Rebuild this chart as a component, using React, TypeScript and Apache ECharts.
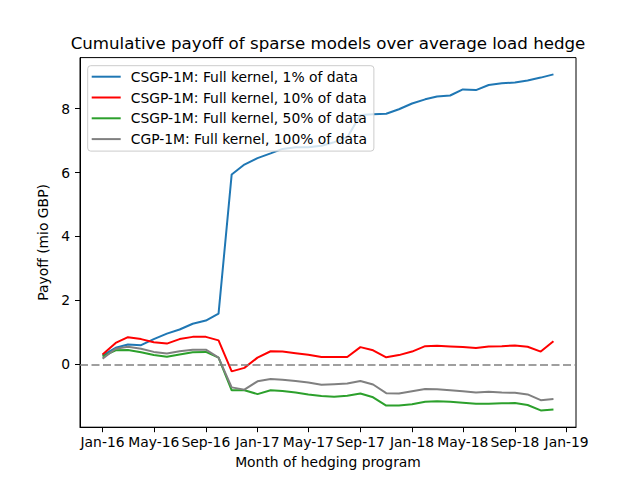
import React, { useEffect, useRef } from "react";
import * as echarts from "echarts";

const MONTHS = [
  "2016-01", "2016-02", "2016-03", "2016-04", "2016-05", "2016-06",
  "2016-07", "2016-08", "2016-09", "2016-10", "2016-11", "2016-12",
  "2017-01", "2017-02", "2017-03", "2017-04", "2017-05", "2017-06",
  "2017-07", "2017-08", "2017-09", "2017-10", "2017-11", "2017-12",
  "2018-01", "2018-02", "2018-03", "2018-04", "2018-05", "2018-06",
  "2018-07", "2018-08", "2018-09", "2018-10", "2018-11", "2018-12",
];

const TICK_LABELS = [
  "Jan-16", "May-16", "Sep-16", "Jan-17", "May-17",
  "Sep-17", "Jan-18", "May-18", "Sep-18", "Jan-19",
];

const Y_TICKS = [0, 2, 4, 6, 8];

const SERIES_NAMES = [
  "CSGP-1M: Full kernel, 1% of data",
  "CSGP-1M: Full kernel, 10% of data",
  "CSGP-1M: Full kernel, 50% of data",
  "CGP-1M: Full kernel, 100% of data",
];

const SERIES_COLORS = ["#1f77b4", "#ff0000", "#2ca02c", "#808080"];

const BLUE_1 = [
  0.28, 0.52, 0.62, 0.60, 0.79, 0.96, 1.09, 1.27, 1.37, 1.59, 5.94, 6.25,
  6.45, 6.60, 6.74, 6.79, 6.79, 6.84, 6.95, 7.10, 7.80, 7.82, 7.84, 7.98,
  8.16, 8.29, 8.38, 8.41, 8.60, 8.58, 8.74, 8.79, 8.82, 8.88, 8.97, 9.07,
];

const RED_10 = [
  0.31, 0.67, 0.85, 0.79, 0.69, 0.65, 0.79, 0.86, 0.86, 0.75, -0.22, -0.11,
  0.21, 0.41, 0.40, 0.35, 0.30, 0.23, 0.23, 0.23, 0.54, 0.44, 0.22, 0.29,
  0.40, 0.57, 0.58, 0.56, 0.54, 0.51, 0.56, 0.57, 0.59, 0.55, 0.40, 0.72,
];

const GREEN_50 = [
  0.25, 0.44, 0.45, 0.38, 0.29, 0.24, 0.31, 0.38, 0.39, 0.21, -0.81, -0.81,
  -0.93, -0.81, -0.83, -0.88, -0.94, -0.99, -1.01, -0.98, -0.91, -1.03, -1.29, -1.29,
  -1.25, -1.17, -1.15, -1.17, -1.20, -1.23, -1.23, -1.22, -1.21, -1.27, -1.44, -1.41,
];

const GRAY_100 = [
  0.18, 0.49, 0.55, 0.49, 0.39, 0.34, 0.41, 0.46, 0.46, 0.21, -0.72, -0.79,
  -0.53, -0.46, -0.48, -0.52, -0.57, -0.64, -0.62, -0.60, -0.52, -0.63, -0.90, -0.91,
  -0.84, -0.77, -0.78, -0.81, -0.84, -0.88, -0.86, -0.88, -0.89, -0.94, -1.12, -1.08,
];

const SERIES_VALUES = [BLUE_1, RED_10, GREEN_50, GRAY_100];

const MONTH_NAMES = ["Jan", "Feb", "Mar", "Apr", "May", "Jun", "Jul", "Aug", "Sep", "Oct", "Nov", "Dec"];
const DAY = 86400000;
const ORIGIN = Date.UTC(2016, 0, 1);

function dayOfYm(ym: string): number {
  const [y, m] = ym.split("-").map(Number);
  return (Date.UTC(y, m - 1, 1) - ORIGIN) / DAY;
}

function dayOfLabel(lbl: string): number {
  const [mn, yy] = lbl.split("-");
  const m = MONTH_NAMES.indexOf(mn);
  return (Date.UTC(2000 + Number(yy), m, 1) - ORIGIN) / DAY;
}

const FONT = "DejaVu Sans";

export default function App() {
  const ref = useRef<HTMLDivElement>(null);

  useEffect(() => {
    if (!ref.current) return;
    const chart = echarts.init(ref.current, undefined, { renderer: "svg" });

    const xs = MONTHS.map(dayOfYm);
    const xMinD = Math.min(...xs);
    const xMaxD = Math.max(...xs);
    const xPad = (xMaxD - xMinD) * 0.05;
    const all = SERIES_VALUES.flat();
    const yMinD = Math.min(...all);
    const yMaxD = Math.max(...all);
    const yPad = (yMaxD - yMinD) * 0.05;

    const tickDays = TICK_LABELS.map(dayOfLabel);

    const series: any[] = SERIES_NAMES.map((name, k) => ({
      name,
      type: "line",
      data: xs.map((x, i) => [x, SERIES_VALUES[k][i]]),
      showSymbol: false,
      symbol: "none",
      lineStyle: { width: 2, color: SERIES_COLORS[k] },
      itemStyle: { color: SERIES_COLORS[k] },
      z: 3 + k,
    }));
    series[0].markLine = {
      silent: true,
      symbol: ["none", "none"],
      label: { show: false },
      lineStyle: { type: [8, 3.5], color: "#808080", width: 1.5 },
      data: [{ yAxis: 0 }],
    };

    chart.setOption({
      animation: false,
      textStyle: { fontFamily: FONT },
      grid: {
        left: 80,
        top: 57.6,
        right: 64,
        bottom: 52.8,
        containLabel: false,
        outerBoundsMode: "none",
        show: true,
        borderColor: "#000",
        borderWidth: 1,
        backgroundColor: "transparent",
      },
      graphic: [
        {
          type: "text",
          x: 328,
          y: 43,
          style: {
            text: "Cumulative payoff of sparse models over average load hedge",
            fontSize: 16.67,
            fontFamily: FONT,
            fill: "#000",
            align: "center",
            verticalAlign: "middle",
            textAlign: "center",
            textVerticalAlign: "middle",
          },
        },
      ],
      legend: {
        left: 87.7,
        top: 65.7,
        orient: "vertical",
        icon: "rect",
        itemWidth: 29,
        itemHeight: 2,
        itemGap: 4.8,
        padding: [3, 7, 4, 4],
        backgroundColor: "rgba(255,255,255,0.8)",
        borderColor: "#cccccc",
        borderWidth: 1,
        borderRadius: 3,
        selectedMode: false,
        textStyle: {
          fontFamily: FONT,
          fontSize: 13.89,
          color: "#000",
          lineHeight: 16,
          padding: [0, 0, 0, 5],
        },
        data: SERIES_NAMES,
      },
      xAxis: {
        type: "value",
        min: xMinD - xPad,
        max: xMaxD + xPad,
        name: "Month of hedging program",
        nameLocation: "middle",
        nameGap: 28,
        nameTextStyle: { fontFamily: FONT, fontSize: 13.89, color: "#000" },
        axisLine: { show: true, onZero: false, lineStyle: { color: "#000", width: 1 } },
        axisTick: { show: true, length: 5, customValues: tickDays, lineStyle: { color: "#000", width: 1 } },
        axisLabel: {
          show: true,
          margin: 8,
          customValues: tickDays,
          fontFamily: FONT,
          fontSize: 13.89,
          color: "#000",
          formatter: (v: number) => {
            const idx = tickDays.findIndex((d) => Math.abs(d - v) < 0.5);
            return idx >= 0 ? TICK_LABELS[idx] : "";
          },
        },
        splitLine: { show: false },
      },
      yAxis: {
        type: "value",
        min: yMinD - yPad,
        max: yMaxD + yPad,
        name: "Payoff (mio GBP)",
        nameLocation: "middle",
        nameGap: 24,
        nameTextStyle: { fontFamily: FONT, fontSize: 13.89, color: "#000" },
        axisLine: { show: true, onZero: false, lineStyle: { color: "#000", width: 1 } },
        axisTick: { show: true, length: 5, customValues: Y_TICKS, lineStyle: { color: "#000", width: 1 } },
        axisLabel: {
          show: true,
          margin: 10,
          customValues: Y_TICKS,
          fontFamily: FONT,
          fontSize: 13.89,
          color: "#000",
          formatter: (v: number) => String(Math.round(v)),
        },
        splitLine: { show: false },
      },
      series,
    });

    return () => chart.dispose();
  }, []);

  return (
    <div
      ref={ref}
      style={{ position: "fixed", left: 0, top: 0, width: 640, height: 480, background: "#fff" }}
    />
  );
}
